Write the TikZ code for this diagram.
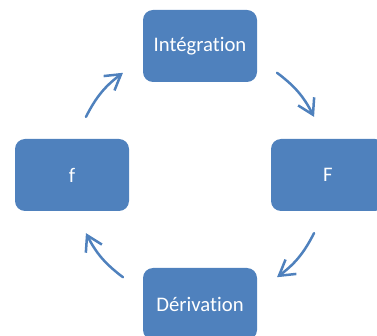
\documentclass[tikz,border=0pt]{standalone}
\usepackage{fontspec}
\setmainfont[Ligatures=NoCommon]{Carlito}
\usetikzlibrary{positioning,arrows.meta,calc}
\definecolor{boxblue}{RGB}{79,129,189}
\tikzset{
  etape/.style={rectangle, rounded corners=10pt, fill=boxblue, text=white,
    minimum width=114pt, minimum height=72pt, inner sep=0pt,
    font=\fontsize{20.7}{24}\selectfont},
  fleche/.style={draw=boxblue, line width=2.5pt, line cap=round,
    -{Straight Barb[length=15pt,width=18pt]}, bend left=13},
}

\begin{document}
\begin{tikzpicture}[node distance=129pt and 128pt, on grid]
    \useasboundingbox (0,0) rectangle (377pt,-336pt);
    \clip (0,0) rectangle (377pt,-336pt);
    \node[etape] (int) at (200pt,-46pt) {Intégration};
    \node[etape, below left=of int] (f) {f};
    \node[etape, below right=of int] (F) {F};
    \node[etape, below right=of f] (der) {Dérivation};
    \coordinate (c) at (int |- f);
    % ends of the four arrows on the circle through the boxes
    \foreach \nom/\ang in {a1/153, a2/127, b1/53, b2/27,
                           c1/-27, c2/-53, d1/-127, d2/-153}
      \coordinate (\nom) at ($(c)+(\ang:128pt)$);
    \draw[fleche] (a1) to (a2);
    \draw[fleche] (b1) to (b2);
    \draw[fleche] (c1) to (c2);
    \draw[fleche] (d1) to (d2);
\end{tikzpicture}
\end{document}
